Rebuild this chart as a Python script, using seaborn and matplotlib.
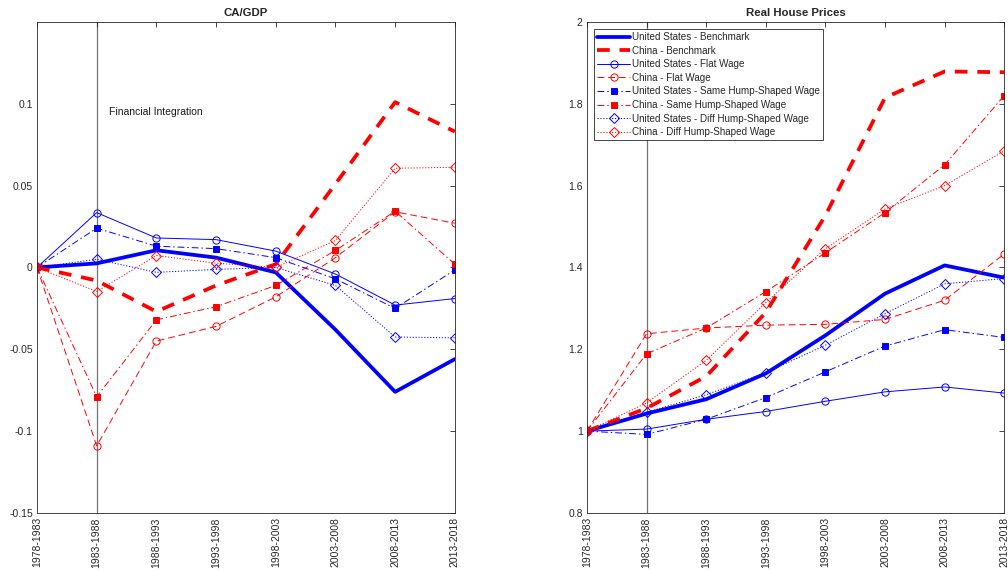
import matplotlib
matplotlib.use("Agg")
import matplotlib.pyplot as plt
import numpy as np
import seaborn as sns

# Five-year periods on the horizontal axis
periods = ["1978-1983", "1983-1988", "1988-1993", "1993-1998",
           "1998-2003", "2003-2008", "2008-2013", "2013-2018"]

# Current account / GDP
ca_us_bench = [0.0, 0.0025, 0.0105, 0.006, -0.003, -0.038, -0.076, -0.056]
ca_cn_bench = [0.0, -0.008, -0.027, -0.011, 0.002, 0.051, 0.101, 0.083]
ca_us_flat = [0.0, 0.0335, 0.018, 0.017, 0.010, -0.004, -0.023, -0.019]
ca_cn_flat = [0.0, -0.109, -0.045, -0.036, -0.018, 0.006, 0.034, 0.027]
ca_us_same = [0.0, 0.024, 0.013, 0.0115, 0.006, -0.007, -0.025, -0.0015]
ca_cn_same = [0.0, -0.079, -0.032, -0.024, -0.011, 0.0104, 0.0344, 0.002]
ca_us_diff = [0.0, 0.005, -0.003, -0.0012, 0.0, -0.011, -0.0425, -0.043]
ca_cn_diff = [0.0, -0.0147, 0.0073, 0.0026, 0.0, 0.0165, 0.0606, 0.0612]

# Real house prices (index, first period = 1)
hp_us_bench = [1.0, 1.043, 1.078, 1.141, 1.234, 1.336, 1.405, 1.375]
hp_cn_bench = [1.0, 1.056, 1.134, 1.290, 1.527, 1.815, 1.879, 1.877]
hp_us_flat = [1.0, 1.005, 1.029, 1.048, 1.073, 1.096, 1.108, 1.093]
hp_cn_flat = [1.0, 1.238, 1.252, 1.259, 1.261, 1.273, 1.320, 1.433]
hp_us_same = [1.0, 0.992, 1.029, 1.082, 1.145, 1.208, 1.248, 1.229]
hp_cn_same = [1.0, 1.189, 1.252, 1.341, 1.436, 1.534, 1.651, 1.820]
hp_us_diff = [1.0, 1.046, 1.089, 1.143, 1.210, 1.287, 1.360, 1.373]
hp_cn_diff = [1.0, 1.069, 1.173, 1.314, 1.446, 1.543, 1.600, 1.685]

series_labels = [
    "United States - Benchmark", "China - Benchmark",
    "United States - Flat Wage", "China - Flat Wage",
    "United States - Same Hump-Shaped Wage", "China - Same Hump-Shaped Wage",
    "United States - Diff Hump-Shaped Wage", "China - Diff Hump-Shaped Wage",
]

BLUE = (0, 0, 1)
RED = (1, 0, 0)
# line style for each series: colour, width, dash pattern, marker, filled marker
styles = [
    dict(color=BLUE, lw=2.7, ls="-", marker=None, fill=False),
    dict(color=RED, lw=2.7, ls=(0, (3.4, 2.6)), marker=None, fill=False),
    dict(color=BLUE, lw=0.7, ls="-", marker="o", fill=False),
    dict(color=RED, lw=0.7, ls=(0, (7, 4)), marker="o", fill=False),
    dict(color=BLUE, lw=0.7, ls=(0, (7, 3, 1.5, 3)), marker="s", fill=True),
    dict(color=RED, lw=0.7, ls=(0, (7, 3, 1.5, 3)), marker="s", fill=True),
    dict(color=BLUE, lw=0.7, ls=(0, (1.2, 1.8)), marker="D", fill=False),
    dict(color=RED, lw=0.7, ls=(0, (1.2, 1.8)), marker="D", fill=False),
]

sns.set_style("white")
plt.rcParams["font.family"] = ["Liberation Sans", "DejaVu Sans"]
plt.rcParams["axes.edgecolor"] = "0.15"
plt.rcParams["xtick.color"] = "0.15"
plt.rcParams["ytick.color"] = "0.15"

fig = plt.figure(figsize=(10.08, 5.71), dpi=100)
ax1 = fig.add_axes([0.0367, 0.1016, 0.4145, 0.8600])
ax2 = fig.add_axes([0.5823, 0.1016, 0.4140, 0.8600])

xpos = np.arange(len(periods))


def draw_panel(ax, data, with_labels):
    for vals, st, lab in zip(data, styles, series_labels):
        kw = dict(color=st["color"], linewidth=st["lw"], linestyle=st["ls"])
        if st["marker"] is not None:
            ms = 4.6 if st["marker"] == "s" else (5.2 if st["marker"] == "o" else 4.8)
            kw.update(marker=st["marker"], markersize=ms,
                      markeredgecolor=st["color"], markeredgewidth=0.7,
                      markerfacecolor=st["color"] if st["fill"] else "none")
        sns.lineplot(x=xpos, y=vals, ax=ax, label=lab if with_labels else None,
                     legend=False, errorbar=None, **kw)
    ax.axvline(1, color="0.45", lw=0.9, zorder=0)
    ax.set_xlim(0, len(periods) - 1)
    ax.set_xticks(xpos)
    ax.set_xticklabels(periods, rotation=90, fontsize=7.5)
    ax.tick_params(axis="both", direction="in", length=3.5, width=0.6,
                   top=True, right=True, labelsize=7.5, pad=3)
    for sp in ax.spines.values():
        sp.set_linewidth(0.6)
        sp.set_color("0.15")
    ax.set_xlabel("")
    ax.set_ylabel("")


draw_panel(ax1, [ca_us_bench, ca_cn_bench, ca_us_flat, ca_cn_flat,
                 ca_us_same, ca_cn_same, ca_us_diff, ca_cn_diff], False)
ax1.set_ylim(-0.15, 0.15)
ax1.set_yticks([-0.15, -0.1, -0.05, 0, 0.05, 0.1])
ax1.set_yticklabels(["-0.15", "-0.1", "-0.05", "0", "0.05", "0.1"])
ax1.set_title("CA/GDP", fontsize=8.2, fontweight="bold", pad=4)
ax1.text(1.2, 0.0952, "Financial Integration", fontsize=7.5, va="center",
         ha="left", color="0.1")

draw_panel(ax2, [hp_us_bench, hp_cn_bench, hp_us_flat, hp_cn_flat,
                 hp_us_same, hp_cn_same, hp_us_diff, hp_cn_diff], True)
ax2.set_ylim(0.8, 2.0)
ax2.set_yticks([0.8, 1.0, 1.2, 1.4, 1.6, 1.8, 2.0])
ax2.set_yticklabels(["0.8", "1", "1.2", "1.4", "1.6", "1.8", "2"])
ax2.set_title("Real House Prices", fontsize=8.2, fontweight="bold", pad=4)

leg = ax2.legend(loc="upper left", fontsize=7.1, frameon=True, fancybox=False,
                 edgecolor="0.15", framealpha=1, borderaxespad=0.75,
                 handlelength=3.3, handletextpad=0.25, labelspacing=0.36,
                 borderpad=0.3, numpoints=1)
leg.get_frame().set_linewidth(0.6)

fig.savefig("out.png", dpi=100)
